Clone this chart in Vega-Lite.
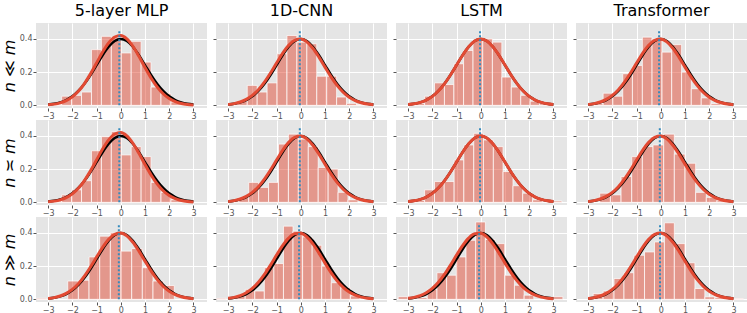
{
"$schema":"https://vega.github.io/schema/vega-lite/v6.json",
"background":"white",
"padding":{"left":1,"top":3,"right":1,"bottom":0},
"config":{
 "font":"DejaVu Sans",
 "view":{"fill":"#E5E5E5","stroke":null},
 "axis":{"domain":false,"grid":true,"gridColor":"#FFFFFF","gridWidth":1,"tickColor":"#555555","tickSize":3,"labelFontSize":8,"labelColor":"#555555","labelPadding":1,"labelFont":"DejaVu Sans"},
 "axisX":{"values":[-3,-2,-1,0,1,2,3],"labelExpr":"datum.value < 0 ? '−' + (-datum.value) : '' + datum.value","labelFlush":false},
 "axisY":{"values":[0,0.1,0.2,0.3,0.4],"format":".1f","titleFontSize":16,"titleFontStyle":"italic","titleFontWeight":"normal","titleColor":"#000000","titlePadding":2,"titleFont":"DejaVu Sans"},
 "title":{"fontSize":16,"fontWeight":"normal","color":"#000000","offset":0,"font":"DejaVu Sans"}
},
"datasets":{
 "std":[{"x":-3,"y":0.00443},{"x":-2.75,"y":0.00909},{"x":-2.5,"y":0.01753},{"x":-2.25,"y":0.03174},{"x":-2,"y":0.05399},{"x":-1.75,"y":0.08628},{"x":-1.5,"y":0.12952},{"x":-1.25,"y":0.18265},{"x":-1,"y":0.24197},{"x":-0.75,"y":0.30114},{"x":-0.5,"y":0.35207},{"x":-0.25,"y":0.38667},{"x":0,"y":0.39894},{"x":0.25,"y":0.38667},{"x":0.5,"y":0.35207},{"x":0.75,"y":0.30114},{"x":1,"y":0.24197},{"x":1.25,"y":0.18265},{"x":1.5,"y":0.12952},{"x":1.75,"y":0.08628},{"x":2,"y":0.05399},{"x":2.25,"y":0.03174},{"x":2.5,"y":0.01753},{"x":2.75,"y":0.00909},{"x":3,"y":0.00443}],
 "fitA":[{"x":-3,"y":0.00338},{"x":-2.75,"y":0.0074},{"x":-2.5,"y":0.0151},{"x":-2.25,"y":0.02875},{"x":-2,"y":0.05109},{"x":-1.75,"y":0.0847},{"x":-1.5,"y":0.13101},{"x":-1.25,"y":0.18911},{"x":-1,"y":0.25471},{"x":-0.75,"y":0.3201},{"x":-0.5,"y":0.37537},{"x":-0.25,"y":0.41074},{"x":0,"y":0.41936},{"x":0.25,"y":0.39951},{"x":0.5,"y":0.35514},{"x":0.75,"y":0.29456},{"x":1,"y":0.22799},{"x":1.25,"y":0.16464},{"x":1.5,"y":0.11095},{"x":1.75,"y":0.06976},{"x":2,"y":0.04093},{"x":2.25,"y":0.02241},{"x":2.5,"y":0.01144},{"x":2.75,"y":0.00546},{"x":3,"y":0.00243}],
 "fitB":[{"x":-3,"y":0.00514},{"x":-2.75,"y":0.01042},{"x":-2.5,"y":0.01984},{"x":-2.25,"y":0.03547},{"x":-2,"y":0.05959},{"x":-1.75,"y":0.09405},{"x":-1.5,"y":0.13943},{"x":-1.25,"y":0.19419},{"x":-1,"y":0.25406},{"x":-0.75,"y":0.31225},{"x":-0.5,"y":0.36053},{"x":-0.25,"y":0.39104},{"x":0,"y":0.39844},{"x":0.25,"y":0.38139},{"x":0.5,"y":0.34294},{"x":0.75,"y":0.28969},{"x":1,"y":0.22988},{"x":1.25,"y":0.17137},{"x":1.5,"y":0.12001},{"x":1.75,"y":0.07895},{"x":2,"y":0.04879},{"x":2.25,"y":0.02833},{"x":2.5,"y":0.01545},{"x":2.75,"y":0.00791},{"x":3,"y":0.00381}],
 "fitD":[{"x":-3,"y":0.00595},{"x":-2.75,"y":0.01191},{"x":-2.5,"y":0.02239},{"x":-2.25,"y":0.03956},{"x":-2,"y":0.06561},{"x":-1.75,"y":0.10226},{"x":-1.5,"y":0.14973},{"x":-1.25,"y":0.20593},{"x":-1,"y":0.26609},{"x":-0.75,"y":0.32297},{"x":-0.5,"y":0.36827},{"x":-0.25,"y":0.39448},{"x":0,"y":0.39695},{"x":0.25,"y":0.37524},{"x":0.5,"y":0.33322},{"x":0.75,"y":0.27799},{"x":1,"y":0.21785},{"x":1.25,"y":0.16039},{"x":1.5,"y":0.11092},{"x":1.75,"y":0.07206},{"x":2,"y":0.04398},{"x":2.25,"y":0.02522},{"x":2.5,"y":0.01358},{"x":2.75,"y":0.00687},{"x":3,"y":0.00327}],
 "bars":[
  {"p":0,"a":-2.85,"b":-2.44,"h":0.005},{"p":0,"a":-2.44,"b":-2.03,"h":0.055},{"p":0,"a":-2.03,"b":-1.62,"h":0.06},{"p":0,"a":-1.62,"b":-1.21,"h":0.08},{"p":0,"a":-1.21,"b":-0.8,"h":0.335},{"p":0,"a":-0.8,"b":-0.39,"h":0.415},{"p":0,"a":-0.39,"b":0.02,"h":0.405},{"p":0,"a":0.02,"b":0.43,"h":0.315},{"p":0,"a":0.43,"b":0.84,"h":0.385},{"p":0,"a":0.84,"b":1.25,"h":0.26},{"p":0,"a":1.25,"b":1.66,"h":0.11},{"p":0,"a":1.66,"b":2.07,"h":0.07},{"p":0,"a":2.07,"b":2.48,"h":0.02},{"p":0,"a":2.48,"b":2.89,"h":0.005},
  {"p":1,"a":-3.03,"b":-2.62,"h":0.008},{"p":1,"a":-2.62,"b":-2.21,"h":0.024},{"p":1,"a":-2.21,"b":-1.8,"h":0.12},{"p":1,"a":-1.8,"b":-1.39,"h":0.08},{"p":1,"a":-1.39,"b":-0.98,"h":0.135},{"p":1,"a":-0.98,"b":-0.57,"h":0.31},{"p":1,"a":-0.57,"b":-0.16,"h":0.42},{"p":1,"a":-0.16,"b":0.25,"h":0.38},{"p":1,"a":0.25,"b":0.66,"h":0.37},{"p":1,"a":0.66,"b":1.07,"h":0.175},{"p":1,"a":1.07,"b":1.48,"h":0.175},{"p":1,"a":1.48,"b":1.89,"h":0.05},{"p":1,"a":1.89,"b":2.3,"h":0.012},{"p":1,"a":2.3,"b":2.71,"h":0.005},
  {"p":2,"a":-2.73,"b":-2.32,"h":0.012},{"p":2,"a":-2.32,"b":-1.91,"h":0.055},{"p":2,"a":-1.91,"b":-1.5,"h":0.135},{"p":2,"a":-1.5,"b":-1.11,"h":0.125},{"p":2,"a":-1.11,"b":-0.71,"h":0.25},{"p":2,"a":-0.71,"b":-0.32,"h":0.33},{"p":2,"a":-0.32,"b":0.08,"h":0.395},{"p":2,"a":0.08,"b":0.48,"h":0.4},{"p":2,"a":0.48,"b":0.87,"h":0.38},{"p":2,"a":0.87,"b":1.26,"h":0.17},{"p":2,"a":1.26,"b":1.65,"h":0.11},{"p":2,"a":1.65,"b":2.04,"h":0.06},{"p":2,"a":2.04,"b":2.43,"h":0.025},{"p":2,"a":2.43,"b":2.82,"h":0.01},
  {"p":3,"a":-2.79,"b":-2.38,"h":0.01},{"p":3,"a":-2.38,"b":-1.98,"h":0.073},{"p":3,"a":-1.98,"b":-1.57,"h":0.055},{"p":3,"a":-1.57,"b":-1.17,"h":0.19},{"p":3,"a":-1.17,"b":-0.76,"h":0.24},{"p":3,"a":-0.76,"b":-0.36,"h":0.41},{"p":3,"a":-0.36,"b":0.05,"h":0.4},{"p":3,"a":0.05,"b":0.45,"h":0.32},{"p":3,"a":0.45,"b":0.86,"h":0.365},{"p":3,"a":0.86,"b":1.26,"h":0.2},{"p":3,"a":1.26,"b":1.67,"h":0.1},{"p":3,"a":1.67,"b":2.07,"h":0.045},{"p":3,"a":2.07,"b":2.48,"h":0.01},
  {"p":4,"a":-2.85,"b":-2.44,"h":0.008},{"p":4,"a":-2.44,"b":-2.03,"h":0.045},{"p":4,"a":-2.03,"b":-1.62,"h":0.075},{"p":4,"a":-1.62,"b":-1.21,"h":0.13},{"p":4,"a":-1.21,"b":-0.8,"h":0.31},{"p":4,"a":-0.8,"b":-0.39,"h":0.395},{"p":4,"a":-0.39,"b":0.02,"h":0.425},{"p":4,"a":0.02,"b":0.43,"h":0.285},{"p":4,"a":0.43,"b":0.84,"h":0.335},{"p":4,"a":0.84,"b":1.25,"h":0.275},{"p":4,"a":1.25,"b":1.66,"h":0.12},{"p":4,"a":1.66,"b":2.07,"h":0.06},{"p":4,"a":2.07,"b":2.48,"h":0.015},
  {"p":5,"a":-2.97,"b":-2.56,"h":0.008},{"p":5,"a":-2.56,"b":-2.15,"h":0.03},{"p":5,"a":-2.15,"b":-1.74,"h":0.12},{"p":5,"a":-1.74,"b":-1.33,"h":0.09},{"p":5,"a":-1.33,"b":-0.92,"h":0.12},{"p":5,"a":-0.92,"b":-0.51,"h":0.35},{"p":5,"a":-0.51,"b":-0.1,"h":0.41},{"p":5,"a":-0.1,"b":0.31,"h":0.38},{"p":5,"a":0.31,"b":0.72,"h":0.335},{"p":5,"a":0.72,"b":1.13,"h":0.21},{"p":5,"a":1.13,"b":1.54,"h":0.2},{"p":5,"a":1.54,"b":1.95,"h":0.06},{"p":5,"a":1.95,"b":2.36,"h":0.015},
  {"p":6,"a":-2.73,"b":-2.32,"h":0.012},{"p":6,"a":-2.32,"b":-1.91,"h":0.075},{"p":6,"a":-1.91,"b":-1.51,"h":0.125},{"p":6,"a":-1.51,"b":-1.1,"h":0.125},{"p":6,"a":-1.1,"b":-0.7,"h":0.255},{"p":6,"a":-0.7,"b":-0.29,"h":0.345},{"p":6,"a":-0.29,"b":0.11,"h":0.415},{"p":6,"a":0.11,"b":0.52,"h":0.375},{"p":6,"a":0.52,"b":0.92,"h":0.335},{"p":6,"a":0.92,"b":1.33,"h":0.185},{"p":6,"a":1.33,"b":1.73,"h":0.1},{"p":6,"a":1.73,"b":2.14,"h":0.055},{"p":6,"a":2.14,"b":2.54,"h":0.015},{"p":6,"a":2.95,"b":3.35,"h":0.008},
  {"p":7,"a":-2.52,"b":-2.08,"h":0.055},{"p":7,"a":-2.08,"b":-1.64,"h":0.045},{"p":7,"a":-1.64,"b":-1.2,"h":0.155},{"p":7,"a":-1.2,"b":-0.76,"h":0.275},{"p":7,"a":-0.76,"b":-0.32,"h":0.335},{"p":7,"a":-0.32,"b":0.12,"h":0.345},{"p":7,"a":0.12,"b":0.56,"h":0.41},{"p":7,"a":0.56,"b":1.0,"h":0.29},{"p":7,"a":1.0,"b":1.44,"h":0.235},{"p":7,"a":1.44,"b":1.88,"h":0.06},{"p":7,"a":1.88,"b":2.32,"h":0.03},{"p":7,"a":2.32,"b":2.76,"h":0.01},
  {"p":8,"a":-3.5,"b":-3.07,"h":0.006},{"p":8,"a":-2.19,"b":-1.75,"h":0.11},{"p":8,"a":-1.75,"b":-1.31,"h":0.115},{"p":8,"a":-1.31,"b":-0.87,"h":0.255},{"p":8,"a":-0.87,"b":-0.43,"h":0.38},{"p":8,"a":-0.43,"b":0.01,"h":0.4},{"p":8,"a":0.01,"b":0.45,"h":0.29},{"p":8,"a":0.45,"b":0.89,"h":0.305},{"p":8,"a":0.89,"b":1.33,"h":0.19},{"p":8,"a":1.33,"b":1.77,"h":0.11},{"p":8,"a":1.77,"b":2.21,"h":0.083},
  {"p":9,"a":-3.48,"b":-3.085,"h":0.006},{"p":9,"a":-2.69,"b":-2.295,"h":0.02},{"p":9,"a":-2.295,"b":-1.9,"h":0.06},{"p":9,"a":-1.9,"b":-1.505,"h":0.05},{"p":9,"a":-1.505,"b":-1.11,"h":0.19},{"p":9,"a":-1.11,"b":-0.715,"h":0.215},{"p":9,"a":-0.715,"b":-0.32,"h":0.44},{"p":9,"a":-0.32,"b":0.075,"h":0.41},{"p":9,"a":0.075,"b":0.47,"h":0.375},{"p":9,"a":0.47,"b":0.865,"h":0.325},{"p":9,"a":0.865,"b":1.26,"h":0.2},{"p":9,"a":1.26,"b":1.655,"h":0.1},{"p":9,"a":1.655,"b":2.05,"h":0.07},{"p":9,"a":2.05,"b":2.445,"h":0.02},
  {"p":10,"a":-3.41,"b":-3.01,"h":0.016},{"p":10,"a":-2.61,"b":-2.21,"h":0.01},{"p":10,"a":-2.21,"b":-1.81,"h":0.06},{"p":10,"a":-1.81,"b":-1.41,"h":0.16},{"p":10,"a":-1.41,"b":-1.01,"h":0.145},{"p":10,"a":-1.01,"b":-0.61,"h":0.255},{"p":10,"a":-0.61,"b":-0.21,"h":0.355},{"p":10,"a":-0.21,"b":0.19,"h":0.465},{"p":10,"a":0.19,"b":0.59,"h":0.36},{"p":10,"a":0.59,"b":0.99,"h":0.335},{"p":10,"a":0.99,"b":1.39,"h":0.145},{"p":10,"a":1.39,"b":1.79,"h":0.085},{"p":10,"a":1.79,"b":2.19,"h":0.025},{"p":10,"a":2.99,"b":3.39,"h":0.016},
  {"p":11,"a":-2.79,"b":-2.38,"h":0.035},{"p":11,"a":-2.38,"b":-1.93,"h":0.05},{"p":11,"a":-1.93,"b":-1.52,"h":0.125},{"p":11,"a":-1.52,"b":-1.11,"h":0.16},{"p":11,"a":-1.11,"b":-0.67,"h":0.265},{"p":11,"a":-0.67,"b":-0.26,"h":0.285},{"p":11,"a":-0.26,"b":0.15,"h":0.345},{"p":11,"a":0.15,"b":0.56,"h":0.46},{"p":11,"a":0.56,"b":1.0,"h":0.335},{"p":11,"a":1.0,"b":1.41,"h":0.22},{"p":11,"a":1.41,"b":1.82,"h":0.065},{"p":11,"a":1.82,"b":2.23,"h":0.015},{"p":11,"a":2.23,"b":2.64,"h":0.01},{"p":11,"a":3.0,"b":3.41,"h":0.005}
 ]
},
"columns":4,
"spacing":{"row":0,"column":5},
"concat":[
 {"width":171,"height":85,"title":"5-layer MLP","layer":[
  {"data":{"name":"bars"},"transform":[{"filter":"datum.p==0"}],"mark":{"type":"rect","fill":"#E24A33","fillOpacity":0.5,"stroke":"#FFFFFF","strokeOpacity":0.7,"strokeWidth":1},"encoding":{"x":{"field":"a","type":"quantitative","scale":{"domain":[-3.5,3.56],"nice":false,"zero":false},"axis":{"title":null}},"x2":{"field":"b"},"y":{"field":"h","type":"quantitative","scale":{"domain":[-0.016,0.495],"nice":false,"zero":false},"axis":{"title":"n ≪ m"}},"y2":{"datum":0}}},
  {"data":{"name":"std"},"mark":{"type":"line","stroke":"#000000","strokeWidth":2.5,"interpolate":"monotone"},"encoding":{"x":{"field":"x","type":"quantitative"},"y":{"field":"y","type":"quantitative"}}},
  {"data":{"name":"fitA"},"mark":{"type":"line","stroke":"#E24A33","strokeWidth":3,"interpolate":"monotone"},"encoding":{"x":{"field":"x","type":"quantitative"},"y":{"field":"y","type":"quantitative"}}},
  {"data":{"values":[{"m":-0.06}]},"mark":{"type":"rule","stroke":"#348ABD","strokeWidth":2,"strokeDash":[2,2]},"encoding":{"x":{"field":"m","type":"quantitative"},"y":{"datum":0},"y2":{"datum":0.45}}}
 ]},
 {"width":171,"height":85,"title":"1D-CNN","layer":[
  {"data":{"name":"bars"},"transform":[{"filter":"datum.p==1"}],"mark":{"type":"rect","fill":"#E24A33","fillOpacity":0.5,"stroke":"#FFFFFF","strokeOpacity":0.7,"strokeWidth":1},"encoding":{"x":{"field":"a","type":"quantitative","scale":{"domain":[-3.5,3.56],"nice":false,"zero":false},"axis":{"title":null}},"x2":{"field":"b"},"y":{"field":"h","type":"quantitative","scale":{"domain":[-0.016,0.495],"nice":false,"zero":false},"axis":{"title":null,"labels":false}},"y2":{"datum":0}}},
  {"data":{"name":"std"},"mark":{"type":"line","stroke":"#000000","strokeWidth":2.5,"interpolate":"monotone"},"encoding":{"x":{"field":"x","type":"quantitative"},"y":{"field":"y","type":"quantitative"}}},
  {"data":{"name":"fitB"},"mark":{"type":"line","stroke":"#E24A33","strokeWidth":3,"interpolate":"monotone"},"encoding":{"x":{"field":"x","type":"quantitative"},"y":{"field":"y","type":"quantitative"}}},
  {"data":{"values":[{"m":-0.04}]},"mark":{"type":"rule","stroke":"#348ABD","strokeWidth":2,"strokeDash":[2,2]},"encoding":{"x":{"field":"m","type":"quantitative"},"y":{"datum":0},"y2":{"datum":0.45}}}
 ]},
 {"width":171,"height":85,"title":"LSTM","layer":[
  {"data":{"name":"bars"},"transform":[{"filter":"datum.p==2"}],"mark":{"type":"rect","fill":"#E24A33","fillOpacity":0.5,"stroke":"#FFFFFF","strokeOpacity":0.7,"strokeWidth":1},"encoding":{"x":{"field":"a","type":"quantitative","scale":{"domain":[-3.5,3.56],"nice":false,"zero":false},"axis":{"title":null}},"x2":{"field":"b"},"y":{"field":"h","type":"quantitative","scale":{"domain":[-0.016,0.495],"nice":false,"zero":false},"axis":{"title":null,"labels":false}},"y2":{"datum":0}}},
  {"data":{"name":"std"},"mark":{"type":"line","stroke":"#000000","strokeWidth":2.5,"interpolate":"monotone"},"encoding":{"x":{"field":"x","type":"quantitative"},"y":{"field":"y","type":"quantitative"}}},
  {"data":{"name":"std"},"mark":{"type":"line","stroke":"#E24A33","strokeWidth":3,"interpolate":"monotone"},"encoding":{"x":{"field":"x","type":"quantitative"},"y":{"field":"y","type":"quantitative"}}},
  {"data":{"values":[{"m":-0.03}]},"mark":{"type":"rule","stroke":"#348ABD","strokeWidth":2,"strokeDash":[2,2]},"encoding":{"x":{"field":"m","type":"quantitative"},"y":{"datum":0},"y2":{"datum":0.45}}}
 ]},
 {"width":171,"height":85,"title":"Transformer","layer":[
  {"data":{"name":"bars"},"transform":[{"filter":"datum.p==3"}],"mark":{"type":"rect","fill":"#E24A33","fillOpacity":0.5,"stroke":"#FFFFFF","strokeOpacity":0.7,"strokeWidth":1},"encoding":{"x":{"field":"a","type":"quantitative","scale":{"domain":[-3.5,3.56],"nice":false,"zero":false},"axis":{"title":null}},"x2":{"field":"b"},"y":{"field":"h","type":"quantitative","scale":{"domain":[-0.016,0.495],"nice":false,"zero":false},"axis":{"title":null,"labels":false}},"y2":{"datum":0}}},
  {"data":{"name":"std"},"mark":{"type":"line","stroke":"#000000","strokeWidth":2.5,"interpolate":"monotone"},"encoding":{"x":{"field":"x","type":"quantitative"},"y":{"field":"y","type":"quantitative"}}},
  {"data":{"name":"fitB"},"mark":{"type":"line","stroke":"#E24A33","strokeWidth":3,"interpolate":"monotone"},"encoding":{"x":{"field":"x","type":"quantitative"},"y":{"field":"y","type":"quantitative"}}},
  {"data":{"values":[{"m":-0.07}]},"mark":{"type":"rule","stroke":"#348ABD","strokeWidth":2,"strokeDash":[2,2]},"encoding":{"x":{"field":"m","type":"quantitative"},"y":{"datum":0},"y2":{"datum":0.45}}}
 ]},
 {"width":171,"height":85,"layer":[
  {"data":{"name":"bars"},"transform":[{"filter":"datum.p==4"}],"mark":{"type":"rect","fill":"#E24A33","fillOpacity":0.5,"stroke":"#FFFFFF","strokeOpacity":0.7,"strokeWidth":1},"encoding":{"x":{"field":"a","type":"quantitative","scale":{"domain":[-3.5,3.56],"nice":false,"zero":false},"axis":{"title":null}},"x2":{"field":"b"},"y":{"field":"h","type":"quantitative","scale":{"domain":[-0.016,0.495],"nice":false,"zero":false},"axis":{"title":"n ≍ m"}},"y2":{"datum":0}}},
  {"data":{"name":"std"},"mark":{"type":"line","stroke":"#000000","strokeWidth":2.5,"interpolate":"monotone"},"encoding":{"x":{"field":"x","type":"quantitative"},"y":{"field":"y","type":"quantitative"}}},
  {"data":{"name":"fitA"},"mark":{"type":"line","stroke":"#E24A33","strokeWidth":3,"interpolate":"monotone"},"encoding":{"x":{"field":"x","type":"quantitative"},"y":{"field":"y","type":"quantitative"}}},
  {"data":{"values":[{"m":-0.06}]},"mark":{"type":"rule","stroke":"#348ABD","strokeWidth":2,"strokeDash":[2,2]},"encoding":{"x":{"field":"m","type":"quantitative"},"y":{"datum":0},"y2":{"datum":0.45}}}
 ]},
 {"width":171,"height":85,"layer":[
  {"data":{"name":"bars"},"transform":[{"filter":"datum.p==5"}],"mark":{"type":"rect","fill":"#E24A33","fillOpacity":0.5,"stroke":"#FFFFFF","strokeOpacity":0.7,"strokeWidth":1},"encoding":{"x":{"field":"a","type":"quantitative","scale":{"domain":[-3.5,3.56],"nice":false,"zero":false},"axis":{"title":null}},"x2":{"field":"b"},"y":{"field":"h","type":"quantitative","scale":{"domain":[-0.016,0.495],"nice":false,"zero":false},"axis":{"title":null,"labels":false}},"y2":{"datum":0}}},
  {"data":{"name":"std"},"mark":{"type":"line","stroke":"#000000","strokeWidth":2.5,"interpolate":"monotone"},"encoding":{"x":{"field":"x","type":"quantitative"},"y":{"field":"y","type":"quantitative"}}},
  {"data":{"name":"fitB"},"mark":{"type":"line","stroke":"#E24A33","strokeWidth":3,"interpolate":"monotone"},"encoding":{"x":{"field":"x","type":"quantitative"},"y":{"field":"y","type":"quantitative"}}},
  {"data":{"values":[{"m":-0.04}]},"mark":{"type":"rule","stroke":"#348ABD","strokeWidth":2,"strokeDash":[2,2]},"encoding":{"x":{"field":"m","type":"quantitative"},"y":{"datum":0},"y2":{"datum":0.45}}}
 ]},
 {"width":171,"height":85,"layer":[
  {"data":{"name":"bars"},"transform":[{"filter":"datum.p==6"}],"mark":{"type":"rect","fill":"#E24A33","fillOpacity":0.5,"stroke":"#FFFFFF","strokeOpacity":0.7,"strokeWidth":1},"encoding":{"x":{"field":"a","type":"quantitative","scale":{"domain":[-3.5,3.56],"nice":false,"zero":false},"axis":{"title":null}},"x2":{"field":"b"},"y":{"field":"h","type":"quantitative","scale":{"domain":[-0.016,0.495],"nice":false,"zero":false},"axis":{"title":null,"labels":false}},"y2":{"datum":0}}},
  {"data":{"name":"std"},"mark":{"type":"line","stroke":"#000000","strokeWidth":2.5,"interpolate":"monotone"},"encoding":{"x":{"field":"x","type":"quantitative"},"y":{"field":"y","type":"quantitative"}}},
  {"data":{"name":"std"},"mark":{"type":"line","stroke":"#E24A33","strokeWidth":3,"interpolate":"monotone"},"encoding":{"x":{"field":"x","type":"quantitative"},"y":{"field":"y","type":"quantitative"}}},
  {"data":{"values":[{"m":-0.03}]},"mark":{"type":"rule","stroke":"#348ABD","strokeWidth":2,"strokeDash":[2,2]},"encoding":{"x":{"field":"m","type":"quantitative"},"y":{"datum":0},"y2":{"datum":0.45}}}
 ]},
 {"width":171,"height":85,"layer":[
  {"data":{"name":"bars"},"transform":[{"filter":"datum.p==7"}],"mark":{"type":"rect","fill":"#E24A33","fillOpacity":0.5,"stroke":"#FFFFFF","strokeOpacity":0.7,"strokeWidth":1},"encoding":{"x":{"field":"a","type":"quantitative","scale":{"domain":[-3.5,3.56],"nice":false,"zero":false},"axis":{"title":null}},"x2":{"field":"b"},"y":{"field":"h","type":"quantitative","scale":{"domain":[-0.016,0.495],"nice":false,"zero":false},"axis":{"title":null,"labels":false}},"y2":{"datum":0}}},
  {"data":{"name":"std"},"mark":{"type":"line","stroke":"#000000","strokeWidth":2.5,"interpolate":"monotone"},"encoding":{"x":{"field":"x","type":"quantitative"},"y":{"field":"y","type":"quantitative"}}},
  {"data":{"name":"fitB"},"mark":{"type":"line","stroke":"#E24A33","strokeWidth":3,"interpolate":"monotone"},"encoding":{"x":{"field":"x","type":"quantitative"},"y":{"field":"y","type":"quantitative"}}},
  {"data":{"values":[{"m":-0.04}]},"mark":{"type":"rule","stroke":"#348ABD","strokeWidth":2,"strokeDash":[2,2]},"encoding":{"x":{"field":"m","type":"quantitative"},"y":{"datum":0},"y2":{"datum":0.45}}}
 ]},
 {"width":171,"height":85,"layer":[
  {"data":{"name":"bars"},"transform":[{"filter":"datum.p==8"}],"mark":{"type":"rect","fill":"#E24A33","fillOpacity":0.5,"stroke":"#FFFFFF","strokeOpacity":0.7,"strokeWidth":1},"encoding":{"x":{"field":"a","type":"quantitative","scale":{"domain":[-3.5,3.56],"nice":false,"zero":false},"axis":{"title":null}},"x2":{"field":"b"},"y":{"field":"h","type":"quantitative","scale":{"domain":[-0.016,0.495],"nice":false,"zero":false},"axis":{"title":"n ≫ m"}},"y2":{"datum":0}}},
  {"data":{"name":"std"},"mark":{"type":"line","stroke":"#000000","strokeWidth":2.5,"interpolate":"monotone"},"encoding":{"x":{"field":"x","type":"quantitative"},"y":{"field":"y","type":"quantitative"}}},
  {"data":{"name":"fitB"},"mark":{"type":"line","stroke":"#E24A33","strokeWidth":3,"interpolate":"monotone"},"encoding":{"x":{"field":"x","type":"quantitative"},"y":{"field":"y","type":"quantitative"}}},
  {"data":{"values":[{"m":-0.08}]},"mark":{"type":"rule","stroke":"#348ABD","strokeWidth":2,"strokeDash":[2,2]},"encoding":{"x":{"field":"m","type":"quantitative"},"y":{"datum":0},"y2":{"datum":0.45}}}
 ]},
 {"width":171,"height":85,"layer":[
  {"data":{"name":"bars"},"transform":[{"filter":"datum.p==9"}],"mark":{"type":"rect","fill":"#E24A33","fillOpacity":0.5,"stroke":"#FFFFFF","strokeOpacity":0.7,"strokeWidth":1},"encoding":{"x":{"field":"a","type":"quantitative","scale":{"domain":[-3.5,3.56],"nice":false,"zero":false},"axis":{"title":null}},"x2":{"field":"b"},"y":{"field":"h","type":"quantitative","scale":{"domain":[-0.016,0.495],"nice":false,"zero":false},"axis":{"title":null,"labels":false}},"y2":{"datum":0}}},
  {"data":{"name":"std"},"mark":{"type":"line","stroke":"#000000","strokeWidth":2.5,"interpolate":"monotone"},"encoding":{"x":{"field":"x","type":"quantitative"},"y":{"field":"y","type":"quantitative"}}},
  {"data":{"name":"fitD"},"mark":{"type":"line","stroke":"#E24A33","strokeWidth":3,"interpolate":"monotone"},"encoding":{"x":{"field":"x","type":"quantitative"},"y":{"field":"y","type":"quantitative"}}},
  {"data":{"values":[{"m":-0.07}]},"mark":{"type":"rule","stroke":"#348ABD","strokeWidth":2,"strokeDash":[2,2]},"encoding":{"x":{"field":"m","type":"quantitative"},"y":{"datum":0},"y2":{"datum":0.45}}}
 ]},
 {"width":171,"height":85,"layer":[
  {"data":{"name":"bars"},"transform":[{"filter":"datum.p==10"}],"mark":{"type":"rect","fill":"#E24A33","fillOpacity":0.5,"stroke":"#FFFFFF","strokeOpacity":0.7,"strokeWidth":1},"encoding":{"x":{"field":"a","type":"quantitative","scale":{"domain":[-3.5,3.56],"nice":false,"zero":false},"axis":{"title":null}},"x2":{"field":"b"},"y":{"field":"h","type":"quantitative","scale":{"domain":[-0.016,0.495],"nice":false,"zero":false},"axis":{"title":null,"labels":false}},"y2":{"datum":0}}},
  {"data":{"name":"std"},"mark":{"type":"line","stroke":"#000000","strokeWidth":2.5,"interpolate":"monotone"},"encoding":{"x":{"field":"x","type":"quantitative"},"y":{"field":"y","type":"quantitative"}}},
  {"data":{"name":"fitD"},"mark":{"type":"line","stroke":"#E24A33","strokeWidth":3,"interpolate":"monotone"},"encoding":{"x":{"field":"x","type":"quantitative"},"y":{"field":"y","type":"quantitative"}}},
  {"data":{"values":[{"m":-0.07}]},"mark":{"type":"rule","stroke":"#348ABD","strokeWidth":2,"strokeDash":[2,2]},"encoding":{"x":{"field":"m","type":"quantitative"},"y":{"datum":0},"y2":{"datum":0.45}}}
 ]},
 {"width":171,"height":85,"layer":[
  {"data":{"name":"bars"},"transform":[{"filter":"datum.p==11"}],"mark":{"type":"rect","fill":"#E24A33","fillOpacity":0.5,"stroke":"#FFFFFF","strokeOpacity":0.7,"strokeWidth":1},"encoding":{"x":{"field":"a","type":"quantitative","scale":{"domain":[-3.5,3.56],"nice":false,"zero":false},"axis":{"title":null}},"x2":{"field":"b"},"y":{"field":"h","type":"quantitative","scale":{"domain":[-0.016,0.495],"nice":false,"zero":false},"axis":{"title":null,"labels":false}},"y2":{"datum":0}}},
  {"data":{"name":"std"},"mark":{"type":"line","stroke":"#000000","strokeWidth":2.5,"interpolate":"monotone"},"encoding":{"x":{"field":"x","type":"quantitative"},"y":{"field":"y","type":"quantitative"}}},
  {"data":{"name":"fitB"},"mark":{"type":"line","stroke":"#E24A33","strokeWidth":3,"interpolate":"monotone"},"encoding":{"x":{"field":"x","type":"quantitative"},"y":{"field":"y","type":"quantitative"}}},
  {"data":{"values":[{"m":-0.03}]},"mark":{"type":"rule","stroke":"#348ABD","strokeWidth":2,"strokeDash":[2,2]},"encoding":{"x":{"field":"m","type":"quantitative"},"y":{"datum":0},"y2":{"datum":0.45}}}
 ]}
]
}
